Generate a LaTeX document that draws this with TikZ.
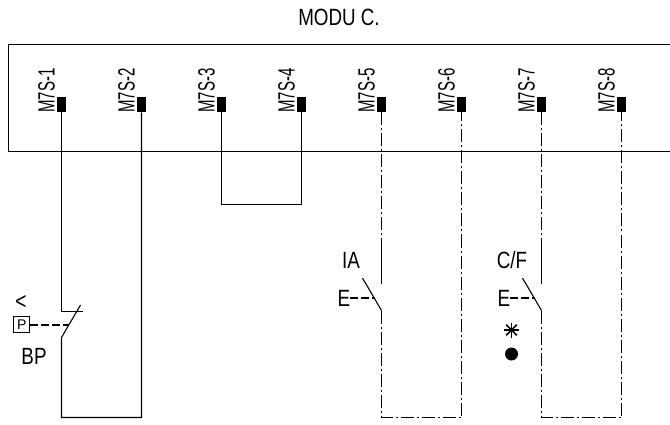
\documentclass[tikz,border=0pt]{standalone}
\usepackage{fontspec}
\setmainfont{Liberation Sans}
\usepackage{tikz}
\usetikzlibrary{positioning,calc}
\tikzset{
    pin/.style={rectangle, fill=black, draw=none, minimum width=9pt, minimum height=15.5pt, inner sep=0pt},
    pinlabel/.style={rotate=90, anchor=west, inner sep=0pt, font=\fontsize{23.5}{23.5}\selectfont, xscale=0.64, transform shape},
    tag/.style={inner sep=0pt, font=\fontsize{23.5}{23.5}\selectfont, xscale=0.8, transform shape},
    wire/.style={line width=1.1pt},
    dotwire/.style={line width=1.4pt, dash pattern=on 13pt off 3pt on 2pt off 3pt},
    link/.style={line width=2pt, dash pattern=on 8pt off 3pt}
}
\begin{document}
\begin{tikzpicture}[x=1pt, y=-1pt]
    \useasboundingbox (0, 0) rectangle (670, 425);
    \node[tag] (title) at (339, 17.5) {MODU C.};
    \draw[line width=1.2pt] (670, 44.5) -- (8.5, 44.5) -- (8.5, 151.5) -- (670, 151.5);
    % terminals of the module
    \foreach \n/\x in {1/61.5, 2/141.5, 3/221.5, 4/301.5, 5/381.5, 6/461.5, 7/541.5, 8/621.5} {
        \node[pin] (pin\n) at (\x+0.3, 104.5) {};
        \node[pinlabel] at (\x-15, 112.7) {M7S-\n};
    }
    % BP
    \coordinate (bpa) at (61.5, 311.5);
    \coordinate (bpb) at (61.5, 337.5);
    \coordinate (bpc) at (141.5, 417.5);
    \coordinate (bpd) at (61.5, 417.5);
    \coordinate (bpe) at (83, 311.5);
    \coordinate (bpf) at (80.5, 305);
    \draw[wire] (pin1.south -| bpa) -- (bpa) -- (bpe);
    \draw[wire] (bpf) -- (bpb) -- (bpd) -- (bpc) -- (pin2.south -| bpc);
    \node[draw, line width=0.9pt, minimum size=16pt, inner sep=0pt, font=\fontsize{14}{14}\selectfont] (push) at (21.7, 324.5) {P};
    \coordinate (pushend) at (69, 324.5);
    \draw[link] (push) -- (pushend);
    \node[tag, font=\fontsize{24}{24}\selectfont] (lt) at (21, 303) {<};
    \node[tag] (bp) at (34, 356) {BP};
    % bridge
    \coordinate (bra) at (221.5, 204.5);
    \coordinate (brb) at (301.5, 204.5);
    \draw[wire] (pin3.south -| bra) -- (bra) -- (brb) -- (pin4.south -| brb);
    % IA and C/F
    \foreach \x/\a/\b/\name in {381.5/5/6/ia, 541.5/7/8/cf} {
        \coordinate (\name up) at (\x, 250);
        \coordinate (\name top) at (\x, 284);
        \coordinate (\name arm) at (\x-19, 278);
        \coordinate (\name hinge) at (\x, 310.5);
        \coordinate (\name low) at (\x, 417.5);
        \coordinate (\name right) at (\x+80, 417.5);
        \coordinate (\name hit) at (\x-7, 297.5);
        \draw[dotwire] (pin\a.south -| \name up) -- (\name up);
        \draw[wire] (\name up) -- (\name top);
        \draw[wire] (\name arm) -- (\name hinge);
        \draw[dotwire] (\name hinge) -- (\name low) -- (\name right) -- (pin\b.south -| \name right);
        \node[tag] (\name e) at (\x-37.5, 298.5) {E};
        \draw[link] (\name e.east |- \name hit) -- (\name hit);
    }
    \node[tag] (ialabel) at (351, 260.5) {IA};
    \node[tag] (cflabel) at (512, 260.5) {C/F};
    \coordinate (star) at (511.5, 330);
    \foreach \a in {0, 45, 90, 135} {
        \draw[line width=1.7pt] ($(star)+(\a:7.5)$) -- ($(star)+(\a+180:7.5)$);
    }
    \node[circle, fill=black, minimum size=13pt, inner sep=0pt] (dot) at (511.5, 354) {};
\end{tikzpicture}
\end{document}
